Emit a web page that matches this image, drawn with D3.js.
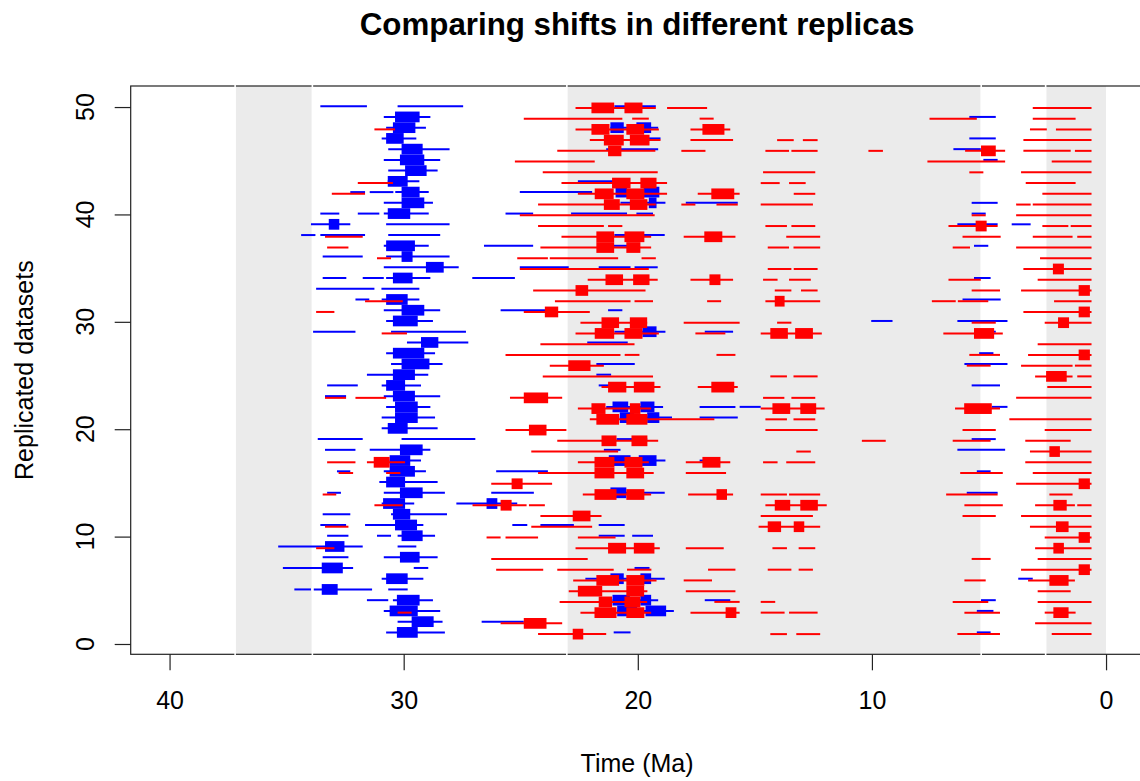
<!DOCTYPE html>
<html lang="en">
<head>
<meta charset="UTF-8">
<title>Comparing shifts in different replicas</title>
<style>
  body, html { margin: 0; padding: 0; background: #fff; }
  svg { display: block; font-family: 'Liberation Sans', Helvetica, Arial, sans-serif; }
</style>
</head>
<body>
<svg id="svg" width="1140" height="781"></svg>
<script src="https://d3js.org/d3.v7.min.js"></script>
<script>
// ----- DATA (Ma) ----------
// each entry: [replicate, start (older), end (younger)]
const blueLines = [
  [50,33.56,31.57],[50,30.26,27.46],[50,21.0,19.23],
  [49,30.85,28.86],[49,5.84,4.71],
  [48,30.75,29.05],[48,21.17,19.13],
  [47,30.94,29.46],[47,20.06,19.03],[47,5.84,4.71],
  [46,30.66,28.04],[46,21.35,19.13],[46,6.52,5.35],
  [45,30.85,28.44],[45,5.24,4.63],
  [44,30.66,28.55],
  [43,30.68,29.33],[43,22.56,20.6],
  [42,32.28,31.65],[42,31.45,30.44],[42,30.36,28.93],[42,25.04,21.95],
  [41,30.85,28.75],[41,20.74,18.82],[41,17.95,15.73],[41,5.74,4.63],
  [40,33.56,32.75],[40,31.96,31.04],[40,30.85,28.93],[40,25.65,24.47],[40,22.85,20.46],[40,20.06,19.35],[40,5.74,5.14],
  [39,33.96,32.28],[39,30.75,28.04],[39,6.35,4.63],[39,4.03,3.22],
  [38,34.38,33.77],[38,33.56,31.65],[38,30.66,28.44],[38,21.0,18.85],
  [37,30.85,28.93],[37,26.57,24.47],[37,21.1,20.03],[37,5.64,5.03],
  [36,33.46,31.75],[36,30.75,28.04],
  [35,30.85,27.65],[35,25.04,22.95],[35,21.67,20.31],[35,20.14,19.15],
  [34,33.46,32.45],[34,31.75,30.85],[34,30.75,28.86],[34,27.07,25.25],[34,5.64,4.93],
  [33,33.74,31.25],[33,30.95,29.33],
  [32,32.06,31.47],[32,30.94,29.33],[32,6.13,4.5],
  [31,30.85,28.44],[31,25.86,23.49],[31,21.27,20.66],
  [30,30.75,28.75],[30,10.03,9.12],[30,6.35,4.21],
  [29,33.87,32.06],[29,30.54,27.34],[29,21.0,18.82],[29,17.14,15.93],[29,5.0,4.71],
  [28,29.86,27.24],[28,22.16,20.43],
  [27,30.75,28.66],[27,5.42,4.81],
  [26,30.54,28.34],[26,21.77,20.13],[26,6.05,4.21],
  [25,31.57,28.95],[25,21.77,21.14],
  [24,33.27,31.96],[24,30.94,29.26],[24,21.67,20.95],[24,5.74,4.53],
  [23,33.36,32.46],[23,30.85,28.44],
  [22,30.75,28.86],[22,21.35,18.92],[22,17.36,15.83],[22,15.65,14.75],[22,4.88,4.21],
  [21,30.94,28.66],[21,20.77,18.54],[21,17.36,15.73],
  [20,30.94,28.55],
  [19,33.67,31.75],[19,30.09,26.94],[19,20.91,19.6],[19,5.74,4.71],
  [18,33.36,32.06],[18,31.45,28.86],[18,21.45,20.74],[18,6.35,4.31],
  [17,30.6,29.26],[17,21.35,18.82],[17,17.36,16.9],
  [16,32.85,32.28],[16,30.85,29.05],[16,26.05,23.84],[16,5.52,4.93],
  [15,31.04,28.55],
  [14,33.27,32.68],[14,30.85,28.24],[14,26.26,24.44],[14,21.17,18.85],[14,5.95,4.63],
  [13,30.94,29.55],[13,27.75,25.15],
  [12,33.46,32.28],[12,30.54,28.15],
  [11,33.56,32.46],[11,31.65,29.16],[11,25.36,24.72],[11,24.16,22.73],[11,21.67,20.56],
  [10,33.27,32.36],[10,31.14,30.54],[10,30.26,28.66],[10,21.67,20.56],[10,20.24,19.35],
  [9,35.36,31.75],[9,30.26,29.46],
  [8,33.46,32.36],[8,30.85,28.55],
  [7,35.16,32.16],[7,29.57,28.95],[7,20.14,19.5],
  [6,30.94,29.16],[6,22.24,18.85],[6,3.75,3.13],
  [5,34.67,33.96],[5,33.84,31.35],[5,30.66,29.83],
  [4,31.57,30.66],[4,30.46,28.75],[4,21.08,19.13],[4,17.14,16.05],[4,5.34,4.71],
  [3,30.85,28.44],[3,20.88,18.46],[3,5.52,4.81],
  [2,30.26,28.34],[2,26.67,24.87],
  [1,30.75,28.24],[1,21.03,20.31],[1,5.52,4.93]
]

const redLines = [
  [50,22.66,19.23],[50,18.75,17.04],[50,3.13,0.62],
  [49,24.87,20.66],[49,20.24,19.53],[49,17.36,16.76],[49,7.54,5.52],[49,3.13,1.3],
  [48,31.25,30.37],[48,22.66,19.1],[48,17.75,16.05],[48,3.25,2.53],[48,2.14,0.62],
  [47,22.05,19.03],[47,17.75,15.93],[47,14.05,13.34],[47,12.95,12.32],[47,3.53,0.62],
  [46,23.44,19.25],[46,18.14,17.11],[46,14.55,13.54],[46,13.44,12.32],[46,10.15,9.53],[46,6.02,4.31],[46,3.53,1.51],[46,1.33,0.62],
  [45,25.25,21.84],[45,7.63,4.31],[45,2.32,0.62],
  [44,24.06,19.15],[44,14.65,12.42],[44,5.84,5.24],[44,3.63,0.62],
  [43,31.96,30.46],[43,23.26,18.75],[43,14.75,13.94],[43,13.54,12.83],[43,3.43,1.3],
  [42,33.07,31.65],[42,22.56,18.75],[42,17.44,15.65],[42,13.34,12.42],[42,2.72,0.62],
  [41,24.26,19.23],[41,18.14,17.54],[41,16.64,15.73],[41,14.75,12.52],[41,3.84,3.22],[41,3.13,0.62],
  [40,25.04,19.28],[40,5.74,5.14],[40,3.84,0.62],
  [39,24.26,21.45],[39,21.27,20.66],[39,14.55,13.63],[39,13.44,12.42],[39,6.73,4.63],[39,2.72,1.61],[39,1.51,0.62],
  [38,33.36,31.75],[38,23.26,19.43],[38,18.04,15.83],[38,13.66,12.21],[38,6.13,4.5],[38,3.13,1.43],[38,1.23,0.62],
  [37,33.27,32.36],[37,24.16,19.43],[37,14.45,13.54],[37,13.35,12.21],[37,6.55,5.81],[37,3.84,0.62],
  [36,31.14,30.54],[36,25.15,23.84],[36,23.76,20.84],[36,19.84,19.23],[36,2.82,0.62],
  [35,25.04,19.53],[35,14.45,13.44],[35,13.34,12.32],[35,3.53,0.62],
  [34,22.14,19.15],[34,17.75,15.93],[34,14.65,14.03],[34,13.54,12.61],[34,6.73,5.35],[34,2.92,0.62],
  [33,24.47,19.67],[33,14.15,13.44],[33,13.03,12.32],[33,5.74,4.53],[33,3.63,0.62],
  [32,31.65,30.04],[32,23.54,20.31],[32,20.14,19.35],[32,17.04,16.44],[32,14.55,12.21],[32,7.44,6.42],[32,6.33,5.03],[32,2.22,0.62],
  [31,33.74,32.96],[31,24.87,22.05],[31,3.53,0.62],
  [30,22.45,19.6],[30,18.04,15.65],[30,14.05,13.44],[30,5.74,4.71],[30,2.62,0.62],
  [29,30.94,29.86],[29,22.66,19.1],[29,17.54,16.26],[29,14.75,12.14],[29,6.95,4.41],
  [28,24.16,20.14],[28,2.92,0.62],
  [27,25.65,20.74],[27,20.56,19.93],[27,16.64,15.83],[27,5.84,4.53],[27,3.33,0.62],
  [26,23.76,21.45],[26,5.95,4.93],[26,3.63,1.43],[26,1.33,0.62],
  [25,24.06,19.35],[25,14.34,13.63],[25,13.35,12.32],[25,3.03,1.43],[25,1.23,0.62],
  [24,21.55,19.03],[24,17.44,15.73],[24,2.51,0.62],
  [23,33.36,32.46],[23,32.06,30.75],[23,25.46,23.23],[23,14.65,13.74],[23,13.44,12.42],[23,3.84,0.62],
  [22,22.56,19.43],[22,14.75,12.02],[22,6.45,4.53],
  [21,22.05,16.73],[21,14.55,13.63],[21,13.35,12.42],[21,4.13,0.62],
  [20,25.65,23.05],[20,14.55,12.32],[20,6.13,4.71],[20,2.62,0.62],
  [19,23.44,19.13],[19,10.43,9.41],[19,6.55,4.93],[19,3.45,1.51],
  [18,24.55,20.84],[18,13.23,12.61],[18,3.25,0.62],
  [17,33.27,32.06],[17,31.57,29.94],[17,22.56,19.53],[17,17.95,16.05],[17,14.65,14.03],[17,13.66,12.42],[17,3.45,0.62],
  [16,32.78,32.16],[16,30.75,30.14],[16,24.26,19.32],[16,17.95,16.23],[16,6.23,4.41],[16,3.13,0.62],
  [15,26.26,23.66],[15,3.84,0.62],
  [14,33.46,32.88],[14,22.35,19.43],[14,17.85,15.93],[14,14.75,13.63],[14,13.54,12.21],[14,6.83,4.63],[14,2.42,1.43],
  [13,31.25,30.04],[13,27.06,24.75],[13,24.65,23.97],[13,14.55,11.93],[13,6.05,4.41],[13,3.03,1.33],[13,1.23,0.62],
  [12,24.16,21.55],[12,14.75,12.52],[12,6.13,4.71],[12,3.63,0.62],
  [11,33.36,32.36],[11,24.55,21.95],[11,14.84,12.21],[11,3.25,0.62],
  [10,26.46,25.86],[10,25.65,24.26],[10,22.56,20.95],[10,2.62,0.62],
  [9,33.74,32.96],[9,22.66,19.06],[9,17.95,16.33],[9,14.25,13.63],[9,13.13,12.42],[9,3.03,0.62],
  [8,26.26,22.14],[8,5.74,4.93],[8,2.92,0.62],
  [7,26.05,24.04],[7,23.44,21.03],[7,20.46,19.42],[7,17.0,15.83],[7,14.45,13.44],[7,13.13,12.52],[7,3.63,0.62],
  [6,22.76,19.2],[6,18.04,16.83],[6,6.05,5.14],[6,3.33,1.33],
  [5,22.95,19.59],[5,17.95,15.83],[5,2.92,1.51],
  [4,23.34,19.6],[4,16.73,15.65],[4,14.75,14.13],[4,6.55,5.03],[4,2.92,0.62],
  [3,30.26,29.66],[3,22.45,19.43],[3,17.75,15.65],[3,14.75,13.73],[3,13.54,12.32],[3,6.05,4.53],[3,2.62,1.3],
  [2,25.86,23.23],[2,3.03,0.62],
  [1,24.26,21.35],[1,14.34,13.63],[1,13.23,12.21],[1,6.35,4.53],[1,2.32,0.62]
]

const blueBoxes = [
  [49,30.37,29.32],
  [48,30.46,29.5],[48,21.17,20.6],[48,20.06,19.43],
  [47,30.75,30.0],
  [46,30.09,29.19],
  [45,30.16,29.12],
  [44,29.94,29.02],
  [43,30.68,29.83],
  [42,30.09,29.32],[42,20.95,20.46],[42,19.75,19.08],
  [41,30.09,29.12],[41,19.53,19.2],
  [40,30.68,29.72],
  [39,33.2,32.75],
  [37,30.75,29.52],
  [36,30.09,29.62],
  [35,29.05,28.29],
  [34,30.46,29.62],
  [32,30.75,29.83],
  [31,30.09,29.12],
  [30,30.46,29.4],
  [29,19.8,19.2],
  [28,29.26,28.52],
  [27,30.46,29.12],
  [26,30.09,28.9],
  [25,30.46,29.52],
  [24,30.75,29.94],
  [23,30.46,29.52],
  [22,30.37,29.4],[22,21.08,20.41],[22,19.89,19.29],
  [21,30.37,29.4],[21,20.77,20.17],[21,19.6,19.08],
  [20,30.68,29.83],
  [18,30.16,29.19],
  [17,30.6,29.72],[17,21.24,20.31],[17,19.96,19.2],
  [16,30.6,29.52],
  [15,30.75,29.94],
  [14,30.16,29.19],[14,21.17,20.49],
  [13,30.88,29.94],[13,26.46,26.0],
  [12,30.46,29.72],
  [11,30.37,29.43],
  [10,30.09,29.19],
  [9,33.36,32.53],
  [8,30.16,29.32],
  [7,33.5,32.6],
  [6,30.75,29.83],[6,21.17,20.6],[6,19.89,19.43],
  [5,33.5,32.82],
  [4,30.29,29.32],[4,21.08,20.34],[4,19.89,19.43],
  [3,30.6,29.4],[3,20.88,20.03],[3,19.67,18.79],
  [2,29.66,28.72],
  [1,30.29,29.4]
]

const redBoxes = [
  [50,21.98,21.01],[50,20.57,19.8],
  [48,21.98,21.21],[48,20.49,19.73],[48,17.24,16.3],
  [47,21.45,20.6],[47,20.34,19.5],
  [46,21.27,20.7],[46,5.34,4.71],
  [43,21.1,20.31],[43,19.89,19.2],
  [42,21.84,21.03],[42,20.49,19.72],[42,16.86,15.88],
  [41,21.45,20.77],[41,20.34,19.59],
  [39,5.57,5.1],
  [38,21.77,21.01],[38,20.57,19.72],[38,17.16,16.39],
  [37,21.77,21.01],[37,20.49,19.89],
  [35,2.27,1.8],
  [34,21.38,20.63],[34,20.2,19.5],[34,16.94,16.47],
  [33,22.66,22.12],[33,1.17,0.69],
  [32,14.15,13.73],
  [31,23.97,23.4],[31,1.17,0.69],
  [30,21.55,20.8],[30,20.34,19.6],[30,2.05,1.58],
  [29,21.84,21.01],[29,20.57,19.8],[29,14.34,13.59],[29,13.28,12.52],[29,5.64,4.78],
  [27,1.17,0.69],
  [26,22.97,22.02],
  [25,2.56,1.68],
  [24,21.27,20.49],[24,20.17,19.29],[24,16.86,15.88],
  [23,24.87,23.83],
  [22,21.98,21.38],[22,20.34,19.89],[22,14.25,13.49],[22,13.06,12.38],[22,6.06,4.88],
  [21,21.77,20.8],[21,20.49,19.59],
  [20,24.65,23.9],
  [19,21.55,20.91],[19,20.27,19.59],
  [18,2.42,1.97],
  [17,31.28,30.6],[17,21.85,21.0],[17,20.57,19.8],[17,17.24,16.47],
  [16,21.85,21.0],[16,20.49,19.73],
  [15,25.39,24.92],[15,1.17,0.69],
  [14,21.85,20.91],[14,20.49,19.72],[14,16.64,16.19],
  [13,25.86,25.39],[13,14.15,13.49],[13,13.06,12.31],[13,2.25,1.68],
  [12,22.78,22.02],
  [11,14.45,13.88],[11,13.34,12.89],[11,2.14,1.6],
  [10,1.17,0.69],
  [9,21.27,20.5],[9,20.17,19.29],[9,2.25,1.8],
  [7,1.17,0.69],
  [6,21.77,20.8],[6,20.49,19.72],[6,2.42,1.6],
  [5,22.56,21.52],[5,20.49,19.73],
  [4,21.67,21.1],[4,20.57,19.89],
  [3,21.85,20.91],[3,20.49,19.72],[3,16.25,15.79],[3,2.25,1.6],
  [2,24.87,23.9],
  [1,22.78,22.33]
]

// shaded time intervals [older, younger]
const bands = [[37.2, 33.9], [23.03, 5.333], [2.58, 0]]
const xTicks = [40, 30, 20, 10, 0]
const yTicks = [0, 10, 20, 30, 40, 50]

// ----- LAYOUT ----------
const plot = {left: 130.7, right: 1143.5, top: 86, bottom: 654.3}

const xScale = d3.scaleLinear()
    .domain([41.66, -1.6])
    .range([plot.left, plot.right])

const yScale = d3.scaleLinear()
    .domain([-0.96, 51.96])
    .range([plot.bottom, plot.top])

const svg = d3.select('#svg')

// title
svg.append('text')
    .attr('x', (plot.left + plot.right) / 2)
    .attr('y', 35)
    .attr('text-anchor', 'middle')
    .style('font-size', '31.3px')
    .style('font-weight', 'bold')
    .text('Comparing shifts in different replicas')

// bands
svg.append('g')
    .selectAll('rect')
    .data(bands)
    .enter()
    .append('rect')
    .attr('x', d => xScale(d[0]))
    .attr('y', plot.top)
    .attr('width', d => xScale(d[1]) - xScale(d[0]))
    .attr('height', plot.bottom - plot.top)
    .attr('fill', '#ebebeb')

// plot frame
svg.append('rect')
    .attr('x', plot.left)
    .attr('y', plot.top)
    .attr('width', plot.right - plot.left)
    .attr('height', plot.bottom - plot.top)
    .attr('fill', 'none')
    .attr('stroke', '#222')
    .attr('stroke-width', 1.2)

// white edges of the bands (cut through the frame)
svg.append('g')
    .selectAll('line')
    .data(bands.flat().filter(d => d > 0))
    .enter()
    .append('line')
    .attr('x1', d => xScale(d))
    .attr('x2', d => xScale(d))
    .attr('y1', plot.top - 1)
    .attr('y2', plot.bottom + 1)
    .attr('stroke', '#fff')
    .attr('stroke-width', 1.6)

// -------- SEGMENTS ------------
const offset = {blue: 0.08, red: -0.08}

function drawLines(data, color) {
    svg.append('g')
        .selectAll('line')
        .data(data)
        .enter()
        .append('line')
        .attr('x1', d => xScale(d[1]))
        .attr('x2', d => xScale(d[2]))
        .attr('y1', d => yScale(d[0] + offset[color]))
        .attr('y2', d => yScale(d[0] + offset[color]))
        .attr('stroke', color)
        .attr('stroke-width', 2)
}

function drawBoxes(data, color) {
    svg.append('g')
        .selectAll('rect')
        .data(data)
        .enter()
        .append('rect')
        .attr('x', d => xScale(d[1]))
        .attr('width', d => xScale(d[2]) - xScale(d[1]))
        .attr('y', d => yScale(d[0] + offset[color] + 0.5))
        .attr('height', yScale(0) - yScale(1))
        .attr('fill', color)
}

// blue first, red drawn on top
drawLines(blueLines, 'blue')
drawBoxes(blueBoxes, 'blue')
drawLines(redLines, 'red')
drawBoxes(redBoxes, 'red')

// -------- AXES ------------
const bottomAxis = d3.axisBottom(xScale)
    .tickValues(xTicks)
    .tickSize(16)
    .tickPadding(21)
    .tickSizeOuter(0)

const gx = svg.append('g')
    .attr('transform', `translate(0, ${plot.bottom})`)
    .call(bottomAxis)
gx.select('.domain').remove()
gx.selectAll('line').attr('stroke', '#222').attr('stroke-width', 1.2)
gx.selectAll('text')
    .style('font-size', '25px')
    .style('font-family', "'Liberation Sans', Helvetica, Arial, sans-serif")
    .attr('fill', '#000')

const leftAxis = d3.axisLeft(yScale)
    .tickValues(yTicks)
    .tickSize(16)
    .tickSizeOuter(0)

const gy = svg.append('g')
    .attr('transform', `translate(${plot.left}, 0)`)
    .call(leftAxis)
gy.select('.domain').remove()
gy.selectAll('line').attr('stroke', '#222').attr('stroke-width', 1.2)
gy.selectAll('text').remove()

// y tick labels, vertical as in R
svg.append('g')
    .selectAll('text')
    .data(yTicks)
    .enter()
    .append('text')
    .attr('transform', d => `translate(93.5, ${yScale(d)}) rotate(-90)`)
    .attr('text-anchor', 'middle')
    .style('font-size', '25px')
    .text(d => d)

// axis labels
svg.append('text')
    .attr('x', (plot.left + plot.right) / 2)
    .attr('y', 772)
    .attr('text-anchor', 'middle')
    .style('font-size', '25px')
    .text('Time (Ma)')

svg.append('text')
    .attr('transform', `translate(33, ${(plot.top + plot.bottom) / 2}) rotate(-90)`)
    .attr('text-anchor', 'middle')
    .style('font-size', '25px')
    .text('Replicated datasets')
</script>
</body>
</html>
